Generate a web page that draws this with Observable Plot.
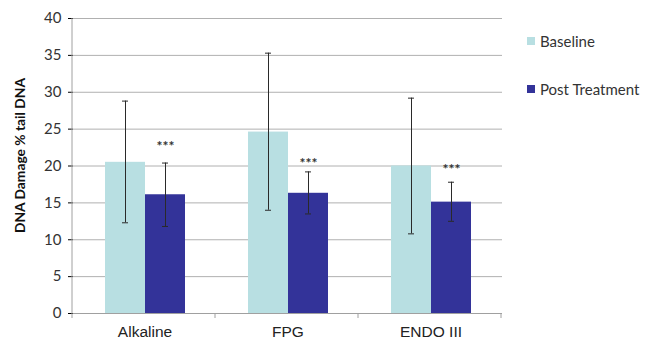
<!DOCTYPE html>
<html>
<head>
<meta charset="utf-8">
<script src="https://cdn.jsdelivr.net/npm/d3@7"></script>
<script src="https://cdn.jsdelivr.net/npm/@observablehq/plot@0.6"></script>
<style>
  html, body { margin: 0; padding: 0; background: #fff; }
  #wrap { position: relative; width: 657px; height: 342px; }
  .leg { position: absolute; left: 527px; font-family: Lato, "Open Sans", sans-serif; font-size: 15px; color: #333; display: flex; align-items: center; white-space: nowrap; }
  .leg span.sw { display: inline-block; width: 8px; height: 8px; margin-right: 5px; }
  g[aria-label="fx-axis tick label"] text { font-family: "Liberation Sans", Arial, sans-serif; font-size: 15.5px; fill: #222; }
  g[aria-label="y-axis tick label"] text { font-family: Lato, "Open Sans", sans-serif; font-size: 15px; fill: #333; }
</style>
</head>
<body>
<div id="wrap"></div>
<script>
const categories = ["Alkaline", "FPG", "ENDO III"];
const series = ["Baseline", "Post Treatment"];
const colors = ["#b8dfe2", "#333399"];
const baselineMean = [20.5, 24.6, 20.0];
const baselineLow  = [12.3, 14.0, 10.8];
const baselineHigh = [28.8, 35.3, 29.2];
const postMean = [16.1, 16.3, 15.1];
const postLow  = [11.8, 13.5, 12.5];
const postHigh = [20.4, 19.2, 17.8];
const significance = ["***", "***", "***"];
const starY = [22.6, 20.3, 19.5];
const yTicks = [0, 5, 10, 15, 20, 25, 30, 35, 40];
const yLabel = "DNA Damage % tail DNA";

const data = [];
categories.forEach((c, i) => {
  data.push({category: c, series: series[0], value: baselineMean[i], low: baselineLow[i], high: baselineHigh[i], star: null, starY: null});
  data.push({category: c, series: series[1], value: postMean[i], low: postLow[i], high: postHigh[i], star: significance[i], starY: starY[i]});
});

const plot = Plot.plot({
  width: 657,
  height: 342,
  marginLeft: 72,
  marginRight: 154,
  marginTop: 18,
  marginBottom: 29,
  facet: {data, x: "category", label: null},
  fx: {domain: categories, padding: 0, label: null, tickSize: 0, tickPadding: 12},
  x: {domain: series, paddingInner: 0, paddingOuter: 0.75, axis: null},
  y: {domain: [0, 40], ticks: yTicks, label: null, tickSize: 5, tickPadding: 7},
  color: {domain: series, range: colors},
  marks: [
    Plot.gridY(yTicks.filter(t => t > 0), {stroke: "#b0b0b0", strokeOpacity: 1}),
    Plot.ruleY([0], {stroke: "#a0a0a0"}),
    Plot.barY(data, {x: "series", y: "value", fill: "series"}),
    Plot.ruleX(data, {x: "series", y1: "low", y2: "high", stroke: "#2a2a2a", strokeWidth: 1}),
    Plot.tickY(data, {x: "series", y: "low", stroke: "#2a2a2a", insetLeft: 17, insetRight: 17}),
    Plot.tickY(data, {x: "series", y: "high", stroke: "#2a2a2a", insetLeft: 17, insetRight: 17}),
    Plot.text(data, {filter: d => d.star, x: "series", y: "starY", text: "star", fill: "#333", fontSize: 14, fontFamily: "Lato, sans-serif", fontWeight: "bold"})
  ]
});

const wrap = document.getElementById("wrap");
wrap.appendChild(plot);

// axis details drawn from the library's scales
const svg = d3.select(plot);
const fx = plot.scale("fx");
const ySc = plot.scale("y");
const y0 = ySc.apply(0), yTop = ySc.apply(40);
const left = fx.range[0];
svg.append("line").attr("x1", left).attr("x2", left).attr("y1", yTop).attr("y2", y0)
  .attr("stroke", "#a0a0a0");
for (let i = 0; i <= categories.length; i++) {
  const xx = fx.range[0] + i * fx.step;
  svg.append("line").attr("x1", xx).attr("x2", xx).attr("y1", y0).attr("y2", y0 + 5).attr("stroke", "#a0a0a0");
}
svg.append("text")
  .attr("transform", `translate(21,${(yTop + y0) / 2 - 10}) rotate(-90)`)
  .attr("text-anchor", "middle").attr("dominant-baseline", "middle")
  .attr("font-family", "Lato, 'Open Sans', sans-serif").attr("font-weight", "bold").attr("font-size", 13.8)
  .attr("fill", "#111")
  .text(yLabel);

// legend
const legTops = [41, 89];
series.forEach((s, i) => {
  const d = document.createElement("div");
  d.className = "leg";
  d.style.top = (legTops[i] - 10) + "px";
  d.style.height = "20px";
  d.innerHTML = `<span class="sw" style="background:${colors[i]}"></span>${s}`;
  wrap.appendChild(d);
});
</script>
</body>
</html>
